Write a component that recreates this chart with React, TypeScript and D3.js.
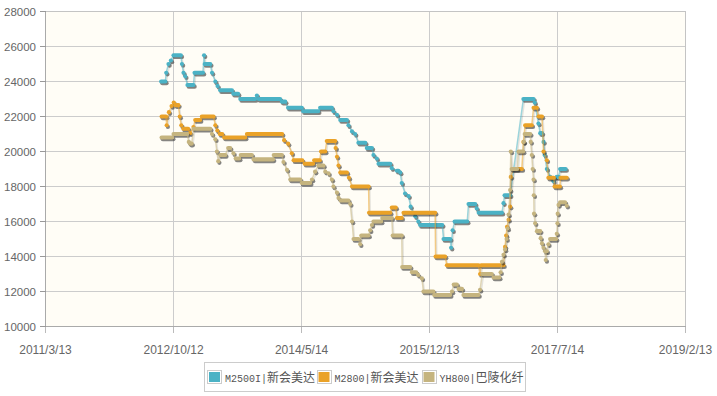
import React from "react";
import * as d3 from "d3";

const xTickLabels = ["2011/3/13", "2012/10/12", "2014/5/14", "2015/12/13", "2017/7/14", "2019/2/13"];
const yTickValues = [10000, 12000, 14000, 16000, 18000, 20000, 22000, 24000, 26000, 28000];
const seriesLatin = ["M2500I|", "M2800|", "YH800|"];
const seriesCjk = ["新会美达", "新会美达", "巴陵化纤"];
const seriesColors = ["#4bb2c5", "#eaa228", "#c5b47f"];

// [first day, last day, price] of each flat stretch
type Run = [string, string, number];

const m2500I: Run[] = [
  ["2012-08-17", "2012-09-05", 24000], ["2012-09-09", "2012-09-09", 24500], ["2012-09-19", "2012-09-19", 25000],
  ["2012-09-30", "2012-09-30", 25200], ["2012-10-12", "2012-11-14", 25500], ["2012-11-19", "2012-11-19", 25000],
  ["2012-11-26", "2012-11-26", 24500], ["2012-12-04", "2012-12-04", 24300], ["2012-12-14", "2013-01-10", 23800],
  ["2013-01-15", "2013-02-22", 24500], ["2013-02-27", "2013-02-27", 25500], ["2013-03-02", "2013-03-27", 25000],
  ["2013-04-04", "2013-04-04", 24500], ["2013-04-19", "2013-04-19", 24000], ["2013-04-29", "2013-04-29", 23750],
  ["2013-05-11", "2013-07-03", 23500], ["2013-07-09", "2013-07-31", 23300], ["2013-08-10", "2013-10-16", 23000],
  ["2013-10-24", "2013-10-24", 23200], ["2013-11-01", "2014-02-06", 23000], ["2014-02-14", "2014-03-01", 22850],
  ["2014-03-14", "2014-05-15", 22500], ["2014-05-21", "2014-07-28", 22300], ["2014-08-06", "2014-09-28", 22500],
  ["2014-10-05", "2014-10-05", 22300], ["2014-10-21", "2014-10-21", 22100], ["2014-11-05", "2014-12-05", 21800],
  ["2014-12-12", "2014-12-12", 21500], ["2014-12-28", "2014-12-28", 21150], ["2015-01-11", "2015-01-11", 21000],
  ["2015-01-26", "2015-02-26", 20500], ["2015-03-05", "2015-03-28", 20200], ["2015-04-04", "2015-04-04", 19800],
  ["2015-04-19", "2015-04-19", 19600], ["2015-04-27", "2015-06-19", 19300], ["2015-06-26", "2015-06-26", 19050],
  ["2015-07-19", "2015-07-26", 18900], ["2015-08-03", "2015-08-03", 18800], ["2015-08-10", "2015-08-10", 18200],
  ["2015-08-25", "2015-08-25", 17600], ["2015-09-10", "2015-09-10", 17450], ["2015-09-19", "2015-09-19", 16850],
  ["2015-10-10", "2015-10-10", 16300], ["2015-10-24", "2015-10-24", 16000], ["2015-11-01", "2016-02-09", 15800],
  ["2016-02-15", "2016-03-16", 15000], ["2016-03-20", "2016-03-20", 14500], ["2016-03-27", "2016-03-27", 15500],
  ["2016-04-05", "2016-06-01", 16000], ["2016-06-07", "2016-07-07", 17000], ["2016-07-14", "2016-07-14", 16750],
  ["2016-07-23", "2016-11-05", 16500], ["2016-11-12", "2016-11-12", 17050], ["2016-11-17", "2016-12-12", 17500],
  ["2017-02-10", "2017-03-28", 23000], ["2017-04-02", "2017-04-02", 22800], ["2017-04-19", "2017-04-19", 21600],
  ["2017-04-27", "2017-05-05", 21050], ["2017-05-12", "2017-05-12", 20550], ["2017-05-17", "2017-05-17", 19800],
  ["2017-05-27", "2017-05-27", 19000], ["2017-06-11", "2017-06-11", 18550], ["2017-06-26", "2017-06-26", 18300],
  ["2017-07-11", "2017-07-19", 18550], ["2017-07-26", "2017-08-20", 19000],
];

const m2800: Run[] = [
  ["2012-08-19", "2012-09-08", 22000], ["2012-09-11", "2012-09-11", 21500], ["2012-09-21", "2012-09-21", 22250],
  ["2012-10-03", "2012-10-03", 22600], ["2012-10-13", "2012-10-13", 22800], ["2012-10-21", "2012-11-03", 22650],
  ["2012-11-09", "2012-11-09", 22000], ["2012-11-16", "2012-11-16", 21500], ["2012-11-25", "2012-12-17", 21300],
  ["2012-12-26", "2012-12-26", 21050], ["2013-01-10", "2013-01-10", 21400], ["2013-01-18", "2013-02-09", 21800],
  ["2013-02-17", "2013-04-11", 22000], ["2013-04-19", "2013-04-19", 21500], ["2013-04-28", "2013-04-28", 21200],
  ["2013-05-09", "2013-05-20", 21000], ["2013-05-29", "2013-09-01", 20800], ["2013-09-09", "2014-02-15", 21000],
  ["2014-02-24", "2014-02-24", 20650], ["2014-03-14", "2014-03-14", 20450], ["2014-03-31", "2014-03-31", 19900],
  ["2014-04-08", "2014-05-17", 19500], ["2014-05-28", "2014-07-05", 19300], ["2014-07-10", "2014-08-04", 19500],
  ["2014-08-10", "2014-08-29", 20000], ["2014-09-05", "2014-10-13", 20600], ["2014-10-15", "2014-10-15", 20200],
  ["2014-10-21", "2014-10-21", 19700], ["2014-10-28", "2014-10-28", 19200], ["2014-11-05", "2014-12-05", 18800],
  ["2014-12-14", "2014-12-14", 18500], ["2014-12-28", "2015-03-13", 18000], ["2015-03-15", "2015-06-19", 16500],
  ["2015-06-26", "2015-07-14", 16800], ["2015-07-19", "2015-08-10", 16200], ["2015-08-18", "2016-01-08", 16500],
  ["2016-01-10", "2016-02-22", 14000], ["2016-03-01", "2016-07-22", 13500], ["2016-07-29", "2016-07-29", 13000],
  ["2016-08-03", "2016-11-12", 13500], ["2016-11-19", "2016-11-19", 14550], ["2016-11-24", "2016-11-24", 15200],
  ["2016-11-28", "2016-11-28", 15700], ["2016-12-05", "2016-12-05", 16100], ["2016-12-12", "2016-12-12", 16850],
  ["2016-12-15", "2016-12-15", 18550], ["2016-12-27", "2017-02-03", 19000], ["2017-02-10", "2017-02-10", 20550],
  ["2017-02-18", "2017-03-20", 21500], ["2017-03-28", "2017-04-12", 22500], ["2017-04-19", "2017-05-05", 22000],
  ["2017-05-12", "2017-05-12", 20000], ["2017-05-27", "2017-05-27", 19500], ["2017-06-03", "2017-06-28", 18500],
  ["2017-07-01", "2017-07-25", 18000], ["2017-07-28", "2017-08-25", 18500],
];

const yh800: Run[] = [
  ["2012-08-19", "2012-10-06", 20800], ["2012-10-12", "2012-12-13", 21000], ["2012-12-20", "2012-12-20", 20550],
  ["2012-12-26", "2013-01-02", 20450], ["2013-01-11", "2013-03-27", 21300], ["2013-04-04", "2013-04-04", 21000],
  ["2013-04-19", "2013-04-19", 20700], ["2013-04-26", "2013-04-26", 20000], ["2013-05-02", "2013-05-02", 19450],
  ["2013-05-11", "2013-06-03", 19800], ["2013-06-16", "2013-06-25", 20200], ["2013-07-10", "2013-07-10", 19900],
  ["2013-07-20", "2013-08-05", 19600], ["2013-08-12", "2013-10-01", 19800], ["2013-10-09", "2014-01-05", 19550],
  ["2014-01-08", "2014-02-14", 19800], ["2014-02-21", "2014-02-21", 19400], ["2014-03-09", "2014-03-09", 18950],
  ["2014-03-24", "2014-05-08", 18400], ["2014-05-15", "2014-06-22", 18200], ["2014-06-30", "2014-06-30", 18400],
  ["2014-07-14", "2014-07-14", 18850], ["2014-07-29", "2014-08-21", 19200], ["2014-08-29", "2014-08-29", 18850],
  ["2014-09-13", "2014-09-13", 18750], ["2014-09-28", "2014-09-28", 18400], ["2014-10-05", "2014-10-05", 18000],
  ["2014-10-21", "2014-10-21", 17650], ["2014-10-28", "2014-10-28", 17350], ["2014-11-07", "2014-12-12", 17200],
  ["2014-12-20", "2014-12-20", 17000], ["2014-12-28", "2014-12-28", 16000], ["2015-01-04", "2015-01-26", 15000],
  ["2015-02-03", "2015-02-03", 14700], ["2015-02-08", "2015-03-13", 15200], ["2015-03-20", "2015-03-20", 15500],
  ["2015-03-28", "2015-03-28", 15800], ["2015-04-04", "2015-05-09", 16000], ["2015-05-14", "2015-06-26", 16200],
  ["2015-06-30", "2015-08-10", 15200], ["2015-08-12", "2015-09-17", 13400], ["2015-09-25", "2015-10-14", 13100],
  ["2015-10-23", "2015-10-23", 12950], ["2015-11-09", "2015-11-09", 12750], ["2015-11-16", "2015-12-31", 12000],
  ["2016-01-04", "2016-03-16", 11800], ["2016-03-24", "2016-03-24", 12000], ["2016-04-01", "2016-04-15", 12400],
  ["2016-04-23", "2016-05-08", 12150], ["2016-05-15", "2016-07-22", 11800], ["2016-07-29", "2016-07-29", 12100],
  ["2016-08-08", "2016-09-20", 13000], ["2016-09-28", "2016-10-24", 12800], ["2016-10-30", "2016-10-30", 13100],
  ["2016-11-05", "2016-11-05", 13700], ["2016-11-12", "2016-11-12", 14100], ["2016-11-19", "2016-11-19", 14400],
  ["2016-11-26", "2016-11-26", 15000], ["2016-12-01", "2016-12-01", 15600], ["2016-12-05", "2016-12-05", 16400],
  ["2016-12-12", "2016-12-12", 17800], ["2016-12-15", "2016-12-15", 20000], ["2016-12-19", "2017-01-13", 19000],
  ["2017-01-19", "2017-02-09", 20000], ["2017-02-12", "2017-02-12", 20550], ["2017-02-16", "2017-03-13", 21000],
  ["2017-03-15", "2017-03-15", 20550], ["2017-03-20", "2017-03-20", 19800], ["2017-03-24", "2017-03-24", 19000],
  ["2017-03-28", "2017-03-28", 18400], ["2017-03-29", "2017-03-29", 17500], ["2017-03-30", "2017-03-30", 16450],
  ["2017-04-04", "2017-04-04", 15900], ["2017-04-12", "2017-04-27", 15450], ["2017-04-29", "2017-04-29", 15050],
  ["2017-05-05", "2017-05-05", 14750], ["2017-05-12", "2017-05-12", 14500], ["2017-05-19", "2017-05-19", 14300],
  ["2017-05-22", "2017-05-22", 13800], ["2017-05-27", "2017-05-27", 14300], ["2017-06-03", "2017-06-03", 14700],
  ["2017-06-11", "2017-07-08", 15000], ["2017-07-11", "2017-07-11", 15300], ["2017-07-14", "2017-07-14", 15900],
  ["2017-07-15", "2017-07-15", 16450], ["2017-07-19", "2017-07-19", 16950], ["2017-07-26", "2017-08-17", 17100],
  ["2017-08-25", "2017-08-25", 16900],
];

const allSeries = [m2500I, m2800, yh800];

export default function App() {
  const W = 717, H = 396;
  const left = 45.5, right = 685.5, top = 11.5, bottom = 326.5;
  const parseTick = d3.timeParse("%Y/%m/%d");
  const parseDay = d3.timeParse("%Y-%m-%d");
  const tickDates = xTickLabels.map((s) => parseTick(s) as Date);
  const x = d3.scaleTime().domain([tickDates[0], tickDates[tickDates.length - 1]]).range([left, right]);
  const y = d3.scaleLinear().domain([10000, 28000]).range([bottom, top]);
  const line = d3.line<[number, number]>().x((d) => d[0]).y((d) => d[1]);
  const textColor = "#666";

  const legendX = 204.5, legendY = 362.5;
  const itemStarts = [207, 316.5, 421.5];

  const renderSeries = (runs: Run[], color: string, key: number) => {
    const pts: [number, number][] = runs.flatMap((r) => {
      const yy = y(r[2]);
      return [[x(parseDay(r[0]) as Date), yy], [x(parseDay(r[1]) as Date), yy]] as [number, number][];
    });
    const segs = runs.map((r) => {
      const x1 = x(parseDay(r[0]) as Date);
      const x2 = Math.max(x(parseDay(r[1]) as Date), x1 + 0.01);
      return { x1, x2, y: y(r[2]) };
    });
    return (
      <g key={key}>
        <g transform="translate(1.2,1.7)">
          <path d={line(pts) || ""} fill="none" stroke="#000" strokeOpacity={0.1} strokeWidth={1.5} />
          {segs.map((s, i) => (
            <line key={i} x1={s.x1} x2={s.x2} y1={s.y} y2={s.y} stroke="#222" strokeOpacity={0.55}
              strokeWidth={4.2} strokeLinecap="round" />
          ))}
        </g>
        <path d={line(pts) || ""} fill="none" stroke={color} strokeOpacity={0.55} strokeWidth={1.5} />
        {segs.map((s, i) => (
          <line key={i} x1={s.x1} x2={s.x2} y1={s.y} y2={s.y} stroke={color} strokeWidth={4.2} strokeLinecap="round" />
        ))}
      </g>
    );
  };

  return (
    <svg width={W} height={H} style={{ position: "absolute", left: 0, top: 0, background: "#fff" }}
      fontFamily="'Liberation Sans', Arial, sans-serif">
      <rect x={left} y={top} width={right - left} height={bottom - top} fill="#fffdf6" />
      <g shapeRendering="crispEdges">
        {yTickValues.map((v) => (
          <line key={v} x1={left} x2={right} y1={y(v)} y2={y(v)} stroke="#cccccc" />
        ))}
        {tickDates.map((d, i) => (
          <line key={i} x1={x(d)} x2={x(d)} y1={top} y2={bottom} stroke="#cccccc" />
        ))}
        <rect x={left} y={top} width={right - left} height={bottom - top} fill="none" stroke="#c4c4c4" />
        <line x1={left} x2={left} y1={top} y2={bottom} stroke="#aaa" />
        <line x1={left} x2={right} y1={bottom} y2={bottom} stroke="#aaa" />
        {yTickValues.map((v) => (
          <line key={v} x1={left - 6} x2={left} y1={y(v)} y2={y(v)} stroke="#999" />
        ))}
        {tickDates.map((d, i) => (
          <line key={i} x1={x(d)} x2={x(d)} y1={bottom} y2={bottom + 6} stroke="#bbb" />
        ))}
      </g>
      {yTickValues.map((v) => (
        <text key={v} x={36} y={y(v) + 4} textAnchor="end" fontSize={11.5} fill={textColor}>
          {v}
        </text>
      ))}
      {xTickLabels.map((s, i) => (
        <text key={s} x={x(tickDates[i])} y={354} textAnchor="middle" fontSize={12} fill={textColor}>
          {s}
        </text>
      ))}
      <g>{allSeries.map((runs, i) => renderSeries(runs, seriesColors[i], i))}</g>
      <rect x={legendX} y={legendY} width={321} height={29} fill="#fff" stroke="#ccc" shapeRendering="crispEdges" />
      {seriesLatin.map((lab, i) => (
        <g key={i}>
          <rect x={itemStarts[i] + 0.5} y={370.5} width={14} height={13} fill="#fff" stroke="#ccc" shapeRendering="crispEdges" />
          <rect x={itemStarts[i] + 2} y={372} width={11} height={10} fill={seriesColors[i]} />
          <text x={itemStarts[i] + 18} y={382} fill="#555">
            <tspan fontFamily="'Liberation Mono', monospace" fontSize={10}>{lab}</tspan>
            <tspan fontFamily="'Noto Sans CJK SC', sans-serif" fontSize={12}>{seriesCjk[i]}</tspan>
          </text>
        </g>
      ))}
    </svg>
  );
}
